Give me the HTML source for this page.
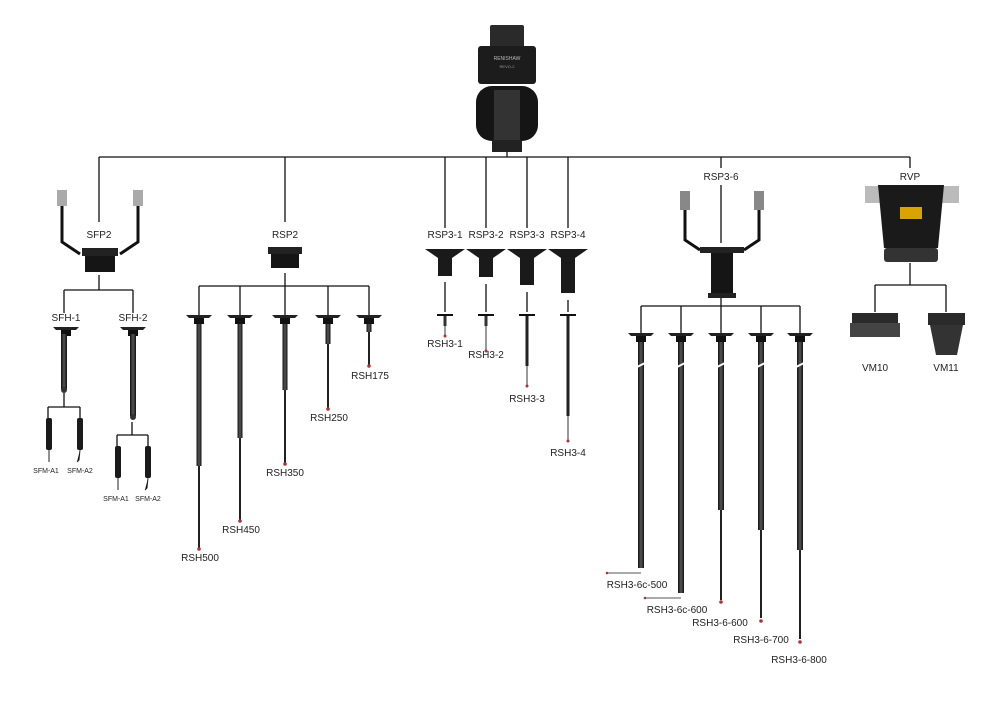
<!DOCTYPE html>
<html><head><meta charset="utf-8"><style>
html,body{margin:0;padding:0;background:#fff}
svg{display:block}
text{font-family:"Liberation Sans",Arial,sans-serif;fill:#222;text-anchor:middle}
</style></head><body>
<svg width="1000" height="706" viewBox="0 0 1000 706" xmlns="http://www.w3.org/2000/svg">
<defs>
<linearGradient id="sh" x1="0" x2="1"><stop offset="0" stop-color="#111"/><stop offset=".5" stop-color="#555"/><stop offset="1" stop-color="#111"/></linearGradient>
<g id="fl"><path d="M-13,0 H13 L10,3 H-10 Z" fill="#222"/><rect x="-5" y="3" width="10" height="6" fill="#111"/></g>
</defs>
<g stroke="#111" stroke-width="1.3" fill="none">
<!-- main bus -->
<path d="M99,157 H910 M507,152 V157"/>
<path d="M99,157 V222 M285,157 V222 M445,157 V228 M486,157 V228 M527,157 V228 M568,157 V228 M721,157 V168 M721,185 V243 M910,157 V168"/>
<!-- SFP2 -->
<path d="M99,275 V290 M64,290 H133 M64,290 V313 M133,290 V313"/>
<path d="M64,393 V407 M48,407 H80 M48,407 V418 M80,407 V418"/>
<path d="M132,422 V435 M117,435 H148 M117,435 V446 M148,435 V446"/>
<!-- RSP2 -->
<path d="M285,273 V315 M199,286 H369 M199,286 V315 M240,286 V315 M328,286 V315 M369,286 V315"/>
<!-- RSP3 -->
<path d="M445,282 V312 M486,284 V312 M527,292 V312 M568,300 V312"/>
<!-- RSP3-6 -->
<path d="M721,298 V333 M641,306 H800 M641,306 V333 M681,306 V333 M761,306 V333 M800,306 V333"/>
<!-- RVP -->
<path d="M910,263 V285 M875,285 H946 M875,285 V312 M946,285 V312"/>
</g>

<!-- Head -->
<rect x="490" y="25" width="34" height="23" rx="2" fill="#2a2a2a"/>
<rect x="478" y="46" width="58" height="38" rx="3" fill="#1c1c1c"/>
<text x="507" y="60" font-size="5" style="fill:#bbb">RENISHAW</text>
<text x="507" y="68" font-size="4" style="fill:#999">REVO-2</text>
<rect x="476" y="86" width="62" height="55" rx="16" fill="#151515"/>
<rect x="494" y="90" width="26" height="50" fill="#333"/>
<rect x="492" y="140" width="30" height="12" fill="#222"/>

<!-- labels -->
<g font-size="10">
<text x="99" y="238">SFP2</text><text x="285" y="238">RSP2</text>
<text x="445" y="238">RSP3-1</text><text x="486" y="238">RSP3-2</text><text x="527" y="238">RSP3-3</text><text x="568" y="238">RSP3-4</text>
<text x="721" y="180">RSP3-6</text><text x="910" y="180">RVP</text>
<text x="66" y="321">SFH-1</text><text x="133" y="321">SFH-2</text>
<text x="200" y="561">RSH500</text><text x="241" y="533">RSH450</text><text x="285" y="476">RSH350</text><text x="329" y="421">RSH250</text><text x="370" y="379">RSH175</text>
<text x="445" y="347">RSH3-1</text><text x="486" y="358">RSH3-2</text><text x="527" y="402">RSH3-3</text><text x="568" y="456">RSH3-4</text>
<text x="637" y="588">RSH3-6c-500</text><text x="677" y="613">RSH3-6c-600</text><text x="720" y="626">RSH3-6-600</text><text x="761" y="643">RSH3-6-700</text><text x="799" y="663">RSH3-6-800</text>
<text x="875" y="371">VM10</text><text x="946" y="371">VM11</text>
</g>
<g font-size="7"><text x="46" y="473">SFM-A1</text><text x="80" y="473">SFM-A2</text><text x="116" y="501">SFM-A1</text><text x="148" y="501">SFM-A2</text></g>

<!-- SFP2 body & arms -->
<rect x="57" y="190" width="10" height="16" fill="#aaa"/><rect x="133" y="190" width="10" height="16" fill="#aaa"/>
<path d="M62,206 V242 L80,254 M138,206 V242 L120,254" stroke="#111" stroke-width="3" fill="none"/>
<rect x="82" y="248" width="36" height="8" fill="#222"/><rect x="85" y="256" width="30" height="16" fill="#151515"/>
<!-- SFH -->
<use href="#fl" x="66" y="327"/><rect x="61" y="334" width="6" height="55" fill="url(#sh)"/><circle cx="64" cy="390" r="3" fill="#333"/>
<use href="#fl" x="133" y="327"/><rect x="130" y="334" width="6" height="82" fill="url(#sh)"/><circle cx="133" cy="417" r="3" fill="#333"/>
<g fill="#1a1a1a">
<rect x="46" y="418" width="6" height="32" rx="2"/><rect x="77" y="418" width="6" height="32" rx="2"/>
<rect x="115" y="446" width="6" height="32" rx="2"/><rect x="145" y="446" width="6" height="32" rx="2"/>
</g>
<path d="M49,450 V462 M80,450 L79,460 L77,462 M118,478 V490 M148,478 L147,488 L145,490" stroke="#222" stroke-width="1"/>

<!-- RSP2 body -->
<rect x="268" y="247" width="34" height="7" fill="#222"/><rect x="271" y="254" width="28" height="14" fill="#151515"/>
<!-- RSH shafts -->
<g>
<use href="#fl" x="199" y="315"/><rect x="196.5" y="324" width="5" height="142" fill="url(#sh)"/><rect x="198" y="466" width="2" height="82" fill="#222"/><circle cx="199" cy="549" r="1.8" fill="#a33"/>
<use href="#fl" x="240" y="315"/><rect x="237.5" y="324" width="5" height="114" fill="url(#sh)"/><rect x="239" y="438" width="2" height="82" fill="#222"/><circle cx="240" cy="521" r="1.8" fill="#a33"/>
<use href="#fl" x="285" y="315"/><rect x="282.5" y="324" width="5" height="66" fill="url(#sh)"/><rect x="284" y="390" width="2" height="73" fill="#222"/><circle cx="285" cy="464" r="1.8" fill="#a33"/>
<use href="#fl" x="328" y="315"/><rect x="325.5" y="324" width="5" height="20" fill="url(#sh)"/><rect x="327" y="344" width="2" height="64" fill="#222"/><circle cx="328" cy="409" r="1.8" fill="#a33"/>
<use href="#fl" x="369" y="315"/><rect x="366.5" y="324" width="5" height="8" fill="url(#sh)"/><rect x="368" y="332" width="2" height="33" fill="#222"/><circle cx="369" cy="366" r="1.8" fill="#a33"/>
</g>

<!-- RSP3 bodies -->
<g fill="#1a1a1a">
<path d="M425,249 H465 L452,258 H438 Z"/><rect x="438" y="258" width="14" height="18"/>
<path d="M466,249 H506 L493,258 H479 Z"/><rect x="479" y="258" width="14" height="19"/>
<path d="M507,249 H547 L534,258 H520 Z"/><rect x="520" y="258" width="14" height="27"/>
<path d="M548,249 H588 L575,258 H561 Z"/><rect x="561" y="258" width="14" height="35"/>
</g>
<g>
<path d="M437,315 H453 M478,315 H494 M519,315 H535 M560,315 H576" stroke="#111" stroke-width="2"/>
<rect x="443.5" y="316" width="3" height="10" fill="#333"/><rect x="444.5" y="326" width="1" height="9" fill="#333"/><circle cx="445" cy="336" r="1.5" fill="#a33"/>
<rect x="484.5" y="316" width="3" height="10" fill="#333"/><rect x="485.5" y="326" width="1" height="24" fill="#333"/><circle cx="486" cy="351" r="1.5" fill="#a33"/>
<rect x="525.5" y="316" width="3" height="50" fill="#222"/><rect x="526.5" y="366" width="1" height="19" fill="#333"/><circle cx="527" cy="386" r="1.5" fill="#a33"/>
<rect x="566.5" y="316" width="3" height="100" fill="#222"/><rect x="567.5" y="416" width="1" height="24" fill="#333"/><circle cx="568" cy="441" r="1.5" fill="#a33"/>
</g>

<!-- RSP3-6 -->
<rect x="680" y="191" width="10" height="19" fill="#888"/><rect x="754" y="191" width="10" height="19" fill="#888"/>
<path d="M685,210 V240 L700,250 M759,210 V240 L744,250" stroke="#111" stroke-width="3" fill="none"/>
<rect x="700" y="247" width="44" height="6" fill="#222"/><rect x="711" y="253" width="22" height="40" fill="#151515"/><rect x="708" y="293" width="28" height="5" fill="#222"/>
<g>
<use href="#fl" x="641" y="333"/><rect x="638" y="342" width="6" height="226" fill="url(#sh)"/><path d="M607,573 H641" stroke="#555"/><circle cx="607" cy="573" r="1.3" fill="#a33"/>
<use href="#fl" x="681" y="333"/><rect x="678" y="342" width="6" height="251" fill="url(#sh)"/><path d="M645,598 H681" stroke="#555"/><circle cx="645" cy="598" r="1.3" fill="#a33"/>
<use href="#fl" x="721" y="333"/><rect x="718" y="342" width="6" height="168" fill="url(#sh)"/><rect x="720" y="510" width="2" height="90" fill="#222"/><circle cx="721" cy="602" r="1.8" fill="#a33"/>
<use href="#fl" x="761" y="333"/><rect x="758" y="342" width="6" height="188" fill="url(#sh)"/><rect x="760" y="530" width="2" height="88" fill="#222"/><circle cx="761" cy="621" r="1.8" fill="#a33"/>
<use href="#fl" x="800" y="333"/><rect x="797" y="342" width="6" height="208" fill="url(#sh)"/><rect x="799" y="550" width="2" height="89" fill="#222"/><circle cx="800" cy="642" r="1.8" fill="#a33"/>
<path d="M635,368 L647,362 M675,368 L687,362 M715,368 L727,362 M755,368 L767,362 M794,368 L806,362" stroke="#fff" stroke-width="2"/>
</g>

<!-- RVP -->
<rect x="865" y="186" width="94" height="17" fill="#bbb"/>
<path d="M878,185 H944 L938,248 H884 Z" fill="#1a1a1a"/>
<rect x="884" y="248" width="54" height="14" rx="3" fill="#333"/>
<rect x="900" y="207" width="22" height="12" fill="#d9a400"/>
<!-- VM10 / VM11 -->
<rect x="852" y="313" width="46" height="10" fill="#2a2a2a"/><rect x="850" y="323" width="50" height="14" fill="#444"/>
<rect x="928" y="313" width="37" height="12" fill="#2a2a2a"/><path d="M930,325 H963 L957,355 H936 Z" fill="#333"/>
</svg>
</body></html>
